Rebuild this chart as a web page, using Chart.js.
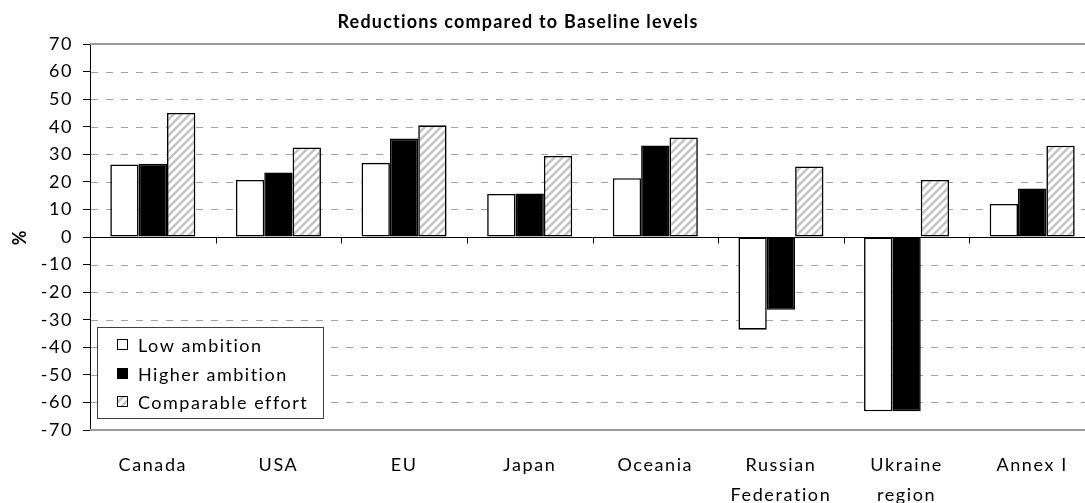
<!DOCTYPE html>
<html>
<head>
<meta charset="utf-8">
<script src="https://cdn.jsdelivr.net/npm/chart.js@4/dist/chart.umd.min.js"></script>
<style>
  html, body { margin: 0; padding: 0; background: #fff; overflow: hidden; }
  #wrap { width: 1085px; height: 503px; overflow: hidden; position: relative; }
  #c { position: absolute; left: 0; top: 0; }
</style>
</head>
<body>
<div id="wrap"><canvas id="c" width="1096" height="503"></canvas></div>
<script>
// Regions and reduction percentages relative to baseline
const categories = [['Canada'], ['USA'], ['EU'], ['Japan'], ['Oceania'], ['Russian', 'Federation'], ['Ukraine', 'region'], ['Annex I']];
const lowAmbition      = [26.3, 20.7, 26.9, 15.6, 21.3, -33.6, -63.2, 12.0];
const higherAmbition   = [26.6, 23.4, 35.7, 15.8, 33.2, -26.4, -63.2, 17.6];
const comparableEffort = [45.0, 32.5, 40.5, 29.4, 36.1, 25.6, 20.7, 33.1];
const seriesNames = ['Low ambition', 'Higher ambition', 'Comparable effort'];
const yMin = -70, yMax = 70, yStep = 10;
const chartTitle = 'Reductions compared to Baseline levels';
const yTitle = '%';

const FONT = 'Lato, "DejaVu Sans", sans-serif';

// Diagonal light-grey hatch used for the "Comparable effort" series
function makeHatch() {
  const n = 8;
  const c = document.createElement('canvas');
  c.width = n; c.height = n;
  const g = c.getContext('2d');
  g.fillStyle = '#ffffff';
  g.fillRect(0, 0, n, n);
  g.strokeStyle = '#c4c4c4';
  g.lineWidth = 2.6;
  g.lineCap = 'square';
  [-n, 0, n].forEach(dx => {
    g.beginPath();
    g.moveTo(dx, n);
    g.lineTo(dx + n, 0);
    g.stroke();
  });
  return g.createPattern(c, 'repeat');
}
const hatch = makeHatch();

const seriesFills = ['#ffffff', '#000000', hatch];

// Gridlines, frame, zero line, category tick marks, title and legend
const framePlugin = {
  id: 'frame',
  beforeDraw(chart) {
    chart.ctx.letterSpacing = '1.6px';
  },
  beforeDatasetsDraw(chart) {
    const { ctx, chartArea: a, scales: { y } } = chart;
    ctx.save();
    ctx.strokeStyle = '#a0a0a0';
    ctx.lineWidth = 1;
    ctx.setLineDash([7, 8]);
    y.ticks.forEach(t => {
      if (t.value === 0 || t.value === yMin || t.value === yMax) return;
      const py = Math.round(y.getPixelForValue(t.value)) + 0.5;
      ctx.beginPath();
      ctx.moveTo(a.left + 1, py);
      ctx.lineTo(a.right, py);
      ctx.stroke();
    });
    ctx.setLineDash([]);
    ctx.strokeStyle = '#9a9a9a';
    ctx.lineWidth = 2;
    [yMax, yMin].forEach(v => {
      const py = Math.round(y.getPixelForValue(v));
      ctx.beginPath();
      ctx.moveTo(a.left, py);
      ctx.lineTo(a.right, py);
      ctx.stroke();
    });
    ctx.restore();
  },
  afterDatasetsDraw(chart) {
    const { ctx, chartArea: a, scales: { x, y } } = chart;
    ctx.save();
    const py0 = Math.round(y.getPixelForValue(0)) + 0.5;
    ctx.strokeStyle = '#000';
    ctx.lineWidth = 1;
    ctx.beginPath();
    ctx.moveTo(a.left, py0);
    ctx.lineTo(a.right, py0);
    ctx.stroke();
    const half = (x.getPixelForValue(1) - x.getPixelForValue(0)) / 2;
    for (let i = 0; i < categories.length - 1; i++) {
      const px = Math.round(x.getPixelForValue(i) + half) + 0.5;
      ctx.beginPath();
      ctx.moveTo(px, py0);
      ctx.lineTo(px, py0 + 6);
      ctx.stroke();
    }
    ctx.restore();
  },
  afterDraw(chart) {
    const { ctx } = chart;
    ctx.save();
    // Title
    ctx.letterSpacing = '1.2px';
    ctx.fillStyle = '#000';
    ctx.font = 'bold 18px ' + FONT;
    ctx.textAlign = 'center';
    ctx.textBaseline = 'middle';
    ctx.fillText(chartTitle, 518, 22);

    // Legend box in the lower-left of the plot
    const bx = 97.5, by = 327.5, bw = 226, bh = 91;
    ctx.fillStyle = '#fff';
    ctx.fillRect(bx, by, bw, bh);
    ctx.strokeStyle = '#404040';
    ctx.lineWidth = 1;
    ctx.strokeRect(bx, by, bw, bh);
    ctx.font = '18px ' + FONT;
    ctx.textAlign = 'left';
    ctx.letterSpacing = '1.5px';
    const rows = [345, 374, 402];
    chart.data.datasets.forEach((ds, i) => {
      const cy = rows[i];
      ctx.fillStyle = ds.backgroundColor;
      ctx.fillRect(117, cy - 6, 11, 11);
      ctx.strokeStyle = '#000';
      ctx.lineWidth = 1;
      ctx.strokeRect(117.5, cy - 5.5, 10, 10);
      ctx.fillStyle = '#000';
      ctx.fillText(ds.label, 138, cy + 1);
    });
    ctx.restore();
  }
};

const seriesValues = [lowAmbition, higherAmbition, comparableEffort];

new Chart(document.getElementById('c'), {
  type: 'bar',
  data: {
    labels: categories,
    datasets: seriesValues.map((vals, i) => ({
      label: seriesNames[i],
      data: vals,
      backgroundColor: seriesFills[i],
      borderColor: '#000000',
      borderWidth: 1.6,
      borderSkipped: false,
      categoryPercentage: 0.677,
      barPercentage: 1.0
    }))
  },
  options: {
    responsive: false,
    animation: false,
    devicePixelRatio: 1,
    layout: { padding: { top: 44, right: 1, left: 0, bottom: 0 } },
    plugins: {
      legend: { display: false },
      title: { display: false },
      tooltip: { enabled: false }
    },
    scales: {
      x: {
        type: 'category',
        grid: { display: false, drawTicks: false },
        border: { display: false },
        ticks: {
          color: '#000',
          autoSkip: false,
          maxRotation: 0,
          padding: 20,
          font: { family: FONT, size: 18, lineHeight: 1.667 }
        },
        afterFit(scale) { scale.height = 73; }
      },
      y: {
        min: yMin,
        max: yMax,
        grid: {
          drawOnChartArea: false,
          drawTicks: true,
          tickLength: 7,
          tickColor: '#000',
          color: '#000'
        },
        border: { display: true, color: '#000', width: 1 },
        ticks: {
          stepSize: yStep,
          color: '#000',
          padding: 10,
          font: { family: FONT, size: 18 }
        },
        title: {
          display: true,
          text: yTitle,
          color: '#000',
          padding: { top: 9, bottom: 0 },
          font: { family: FONT, size: 18, weight: 'bold' }
        },
        afterFit(scale) { scale.width = 90; }
      }
    }
  },
  plugins: [framePlugin]
});
</script>
</body>
</html>
